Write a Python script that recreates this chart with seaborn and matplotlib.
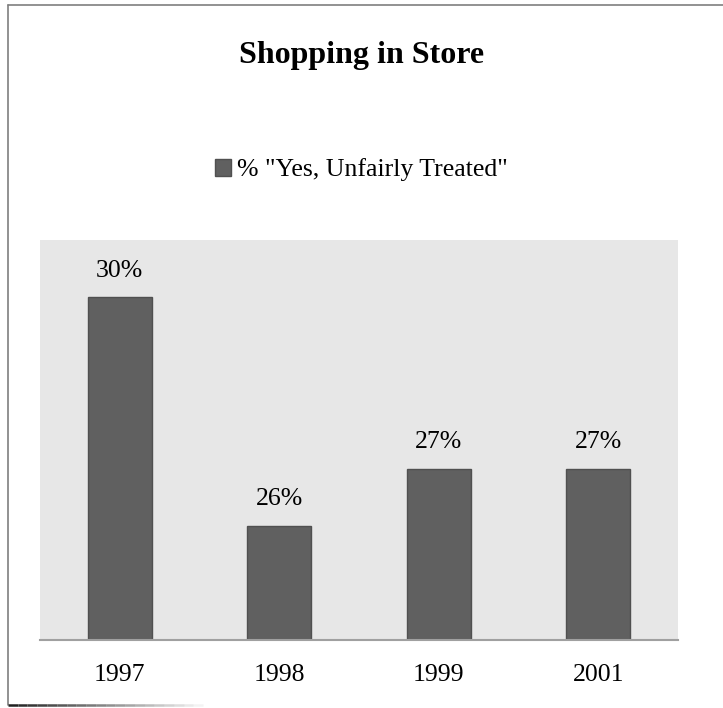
import matplotlib.pyplot as plt
import seaborn as sns
import pandas as pd
from matplotlib.lines import Line2D
from matplotlib.patches import Patch

years = ["1997", "1998", "1999", "2001"]
pct_yes = [30, 26, 27, 27]
series_name = '% "Yes, Unfairly Treated"'

sns.set_style("white")
plt.rcParams['font.family'] = ['Liberation Serif', 'DejaVu Serif']

df = pd.DataFrame({"year": years, "pct": pct_yes})

fig = plt.figure(figsize=(7.23, 7.08), dpi=100)
ax = fig.add_axes([0.0553, 0.096, 0.8824, 0.565])
ax.set_facecolor("#e7e7e7")

sns.barplot(data=df, x="year", y="pct", color="#606060", width=0.4,
            edgecolor="#505050", linewidth=1, saturation=1, ax=ax)

ax.set_ylim(24, 31)
ax.set_xlim(-0.5, 3.5)
for s in ["top", "left", "right"]:
    ax.spines[s].set_visible(False)
ax.spines["bottom"].set_color("#a0a0a0")
ax.spines["bottom"].set_linewidth(1.5)
ax.set_yticks([])
ax.set_xlabel("")
ax.set_ylabel("")
ax.tick_params(axis="x", length=0, labelsize=18.5, labelcolor="black", pad=17)

# data labels
for i, v in enumerate(pct_yes):
    ax.annotate(f"{v}%", (i, v), xytext=(0, 11), textcoords="offset points",
                ha="center", va="bottom", fontsize=18.5, color="black")

fig.suptitle("Shopping in Store", fontsize=23, fontweight="bold", y=0.942,
             color="black")

handle = Patch(facecolor="#606060", edgecolor="#505050")
fig.legend([handle], [series_name], loc="center", bbox_to_anchor=(0.5, 0.76),
           frameon=False, fontsize=18.5, handlelength=0.6, handleheight=0.6,
           handletextpad=0.25, labelcolor="black")

# chart frame lines
fig.add_artist(Line2D([0.011, 0.011], [0.004, 0.993], color="#7f7f7f", lw=1.2,
                      transform=fig.transFigure))
fig.add_artist(Line2D([0.011, 1.0], [0.993, 0.993], color="#7f7f7f", lw=1.2,
                      transform=fig.transFigure))
# fading bottom edge
n = 20
for k in range(n):
    x0 = 0.011 + k * 0.27 / n
    x1 = x0 + 0.27 / n
    fig.add_artist(Line2D([x0, x1], [0.004, 0.004], color="#202020",
                          alpha=1 - k / n, lw=1.8, solid_capstyle="butt",
                          transform=fig.transFigure))

fig.savefig("out.png", dpi=100)
